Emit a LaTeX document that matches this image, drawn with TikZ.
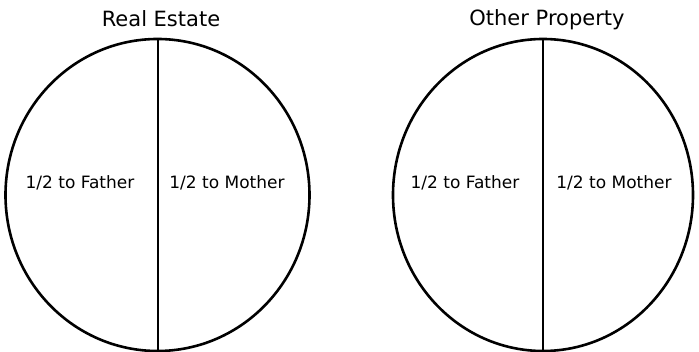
\documentclass[tikz,border=0pt]{standalone}
\usepackage{fontspec}
\setmainfont{DejaVu Sans}
\begin{document}
\begin{tikzpicture}[x=1pt,y=-1pt,
  pie/.style={draw=black,line width=2.6pt},
  divider/.style={draw=black,line width=1.8pt},
  title/.style={font=\fontsize{21}{24}\selectfont},
  share/.style={font=\fontsize{17}{20}\selectfont}]
\useasboundingbox (0,0) rectangle (699,352);
% left pie
\coordinate (lc) at (157.5,195);
\draw[pie] (lc) ellipse [x radius=152, y radius=156];
\coordinate (ltop) at (158,39);
\coordinate (lbot) at (158,351);
\draw[divider] (ltop) -- (lbot);
\node[title] (rt) at (161,19) {Real Estate};
\node[share] (lf) at (80,183) {1/2 to Father};
\node[share] (lm) at (227,183) {1/2 to Mother};
% right pie
\coordinate (rc) at (543,195);
\draw[pie] (rc) ellipse [x radius=150, y radius=156];
\coordinate (rtop) at (543,39);
\coordinate (rbot) at (543,351);
\draw[divider] (rtop) -- (rbot);
\node[title] (ot) at (547,20) {Other Property};
\node[share] (rf) at (465,183) {1/2 to Father};
\node[share] (rm) at (614,183) {1/2 to Mother};
\end{tikzpicture}
\end{document}
